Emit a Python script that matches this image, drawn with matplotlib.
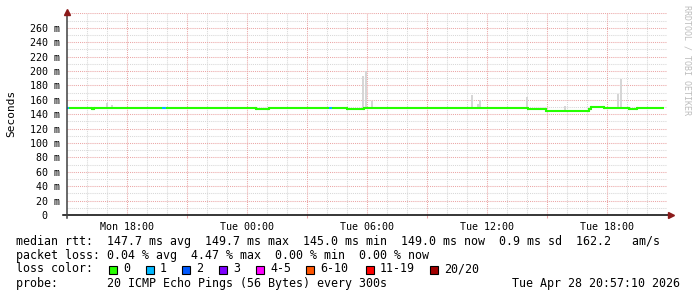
import matplotlib
matplotlib.use("Agg")
import matplotlib.pyplot as plt
from matplotlib.patches import Rectangle

# ---------------- data (hours since Mon 00:00) ----------------
# median RTT: step series, breakpoints / values (ms) / lost pings
rtt_hour = [15.0, 15.1, 16.25, 16.35, 19.75, 19.95, 24.45, 25.1, 28.1, 28.25,
            29.0, 29.85, 38.05, 38.95, 41.1, 41.2, 41.85, 43.1, 43.5]
rtt_end = 44.85
rtt_ms = [148.3, 148.3, 147.4, 148.3, 148.3, 148.3, 146.9, 148.3, 148.3, 148.3,
          146.9, 148.3, 146.8, 145.0, 147.5, 149.6, 148.8, 146.6, 149.0]
rtt_loss = [1, 0, 0, 0, 1, 0, 0, 0, 1, 0,
            0, 0, 0, 0, 0, 0, 0, 0, 0]

# smoke (max ping) spikes: start hour, top (ms)
smoke_hour = [16.95, 17.2, 29.75, 29.9, 30.2, 35.2, 35.5, 35.6, 37.95, 39.85, 42.5, 42.65]
smoke_top = [155, 153, 193, 200, 159, 166, 154, 160, 164, 151, 168, 189]

yticks = list(range(0, 261, 20))
ytick_labels = ["0  "] + [f"{v} m" for v in yticks[1:]]
xticks = [18, 24, 30, 36, 42]
xtick_labels = ["Mon 18:00", "Tue 00:00", "Tue 06:00", "Tue 12:00", "Tue 18:00"]

loss_labels = ["0", "1", "2", "3", "4-5", "6-10", "11-19", "20/20"]
loss_colors = ["#26ff00", "#00b8ff", "#0059ff", "#7e00ff", "#ff00ff",
               "#ff5500", "#ff0000", "#a10000"]

legend_lines = [
    "median rtt:  147.7 ms avg  149.7 ms max  145.0 ms min  149.0 ms now  0.9 ms sd  162.2   am/s",
    "packet loss: 0.04 % avg  4.47 % max  0.00 % min  0.00 % now",
    "loss color:",
    "probe:       20 ICMP Echo Pings (56 Bytes) every 300s",
]
timestamp = "Tue Apr 28 20:57:10 2026"

# ---------------- figure ----------------
W, H = 697, 297
fig = plt.figure(figsize=(W / 100, H / 100), dpi=100)
fig.patch.set_facecolor("white")
mono = "DejaVu Sans Mono"

x0, x1 = 67, 667
ybot, ytop = 215, 13.4
ax = fig.add_axes([x0 / W, (H - ybot) / H, (x1 - x0) / W, (ybot - ytop) / H])
ax.set_xlim(15, 45)
ax.set_ylim(0, 280)
for s in ax.spines.values():
    s.set_visible(False)

# grid
dot = (0, (1, 1))
minor_c, major_c = "#d8d8d8", "#eba6a6"
for h in range(16, 45):
    if h % 3 != 0:
        ax.axvline(h, color=minor_c, lw=0.75, ls=dot, zorder=1)
for v in range(10, 281, 20):
    ax.axhline(v, color=minor_c, lw=0.75, ls=dot, zorder=1)
for h in range(18, 45, 3):
    ax.axvline(h, color=major_c, lw=0.75, ls=dot, zorder=1.1)
for v in range(20, 281, 20):
    ax.axhline(v, color=major_c, lw=0.75, ls=dot, zorder=1.1)

# smoke
smoke_base = []
for h in smoke_hour:
    idx = max(i for i, t in enumerate(rtt_hour) if t <= h)
    smoke_base.append(rtt_ms[idx])
ax.bar(smoke_hour, [t - b for t, b in zip(smoke_top, smoke_base)], bottom=smoke_base,
       width=0.12, align="edge", color="#d6d6d6", lw=0, zorder=2)

# median line
bounds = rtt_hour + [rtt_end]
for i in range(len(rtt_hour)):
    c = loss_colors[rtt_loss[i]]
    ax.plot([bounds[i], bounds[i + 1]], [rtt_ms[i], rtt_ms[i]], color=c, lw=1.5,
            solid_capstyle="butt", zorder=3)
    if i + 1 < len(rtt_hour):
        ax.plot([bounds[i + 1], bounds[i + 1]], [rtt_ms[i], rtt_ms[i + 1]],
                color=loss_colors[rtt_loss[i + 1]], lw=1.5, zorder=3)

# ticks
ax.set_yticks(yticks)
ax.set_yticklabels(ytick_labels, fontfamily=mono, fontsize=7.2)
ax.set_xticks(xticks)
ax.set_xticklabels(xtick_labels, fontfamily=mono, fontsize=7.2)
ax.tick_params(axis="y", length=0, pad=5)
ax.tick_params(axis="x", length=0, pad=5)
ax.set_xticks(list(range(18, 45, 3)), minor=True)
ax.tick_params(axis="x", which="minor", length=2.5, color=major_c, width=0.75)

# axes lines + arrows
ax.plot([-4 / 600, 1.004], [0, 0], transform=ax.transAxes, color="black", lw=1.1,
        clip_on=False, zorder=4)
ax.plot([0, 0], [-3 / 201.6, 1.005], transform=ax.transAxes, color="#404040", lw=1.1,
        clip_on=False, zorder=4)
ax.plot([1.006], [0], marker=">", ms=4, color="#8b1a1a", transform=ax.transAxes,
        clip_on=False, zorder=5)
ax.plot([0], [1.008], marker="^", ms=4, color="#8b1a1a", transform=ax.transAxes,
        clip_on=False, zorder=5)

# y label
fig.text(11 / W, 1 - 113 / H, "Seconds", rotation=90, ha="center", va="center",
         fontfamily=mono, fontsize=8)

# watermark
fig.text(687 / W, 1 - 5 / H, "RRDTOOL / TOBI OETIKER", rotation=-90, ha="center",
         va="top", fontfamily=mono, fontsize=6, color="#bdbdbd")

# legend text
fs = 8.4
ys = [241, 255, 269, 283]
for txt, y in zip(legend_lines, ys):
    fig.text(16 / W, 1 - y / H, txt, ha="left", va="center", fontfamily=mono, fontsize=fs)
fig.text(680 / W, 1 - 283 / H, timestamp, ha="right", va="center", fontfamily=mono,
         fontsize=fs)

sq_x = [109, 146, 182, 219, 256, 306, 366, 430]
for xs, lab, col in zip(sq_x, loss_labels, loss_colors):
    fig.patches.append(Rectangle((xs / W, 1 - 273.5 / H), 8 / W, 8 / H, transform=fig.transFigure,
                                 facecolor=col, edgecolor="black", lw=0.8))
    fig.text((xs + 14) / W, 1 - 269 / H, lab, ha="left", va="center", fontfamily=mono,
             fontsize=fs)

fig.savefig("out.png", dpi=100, facecolor="white")
